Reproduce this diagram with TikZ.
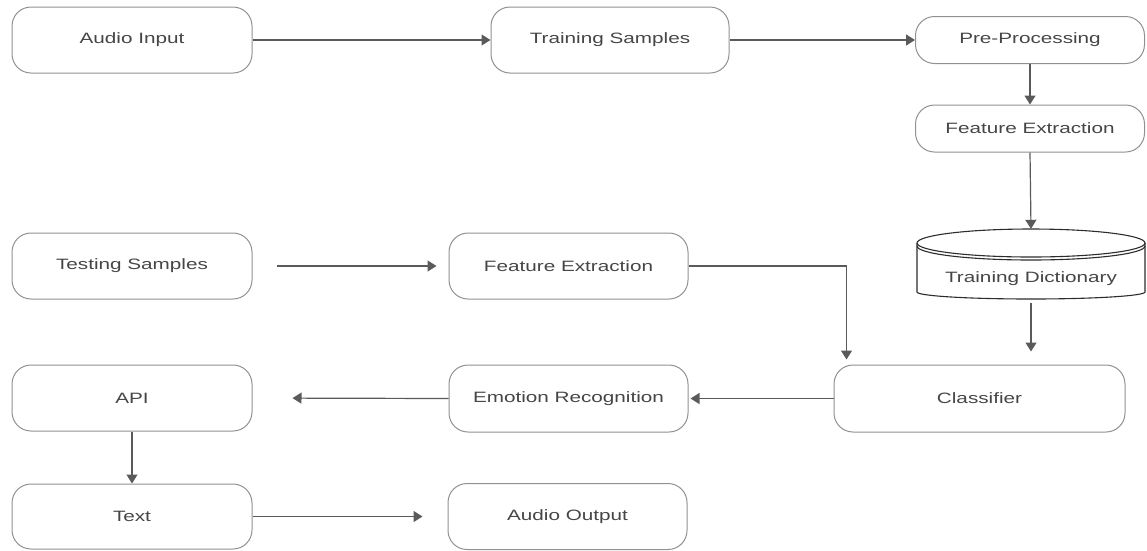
\documentclass[tikz,border=0pt]{standalone}
\usepackage{fontspec}
\newfontfamily\labfont[FakeStretch=1.38]{Liberation Sans}
\usetikzlibrary{arrows.meta,calc}
\definecolor{boxc}{RGB}{145,145,145}
\definecolor{txtc}{RGB}{70,70,70}
\definecolor{arrc}{RGB}{90,90,90}
\definecolor{cylc}{RGB}{45,45,45}
\tikzset{
  proc/.style={draw=boxc, line width=1pt, rounded corners=19pt, fill=white,
    font=\labfont\fontsize{15}{18}\selectfont, text=txtc, inner sep=0pt},
  flow/.style={draw=arrc, line width=1.2pt, -{Triangle[length=9pt,width=11pt]}},
  cyl/.style={draw=cylc, line width=1.1pt}
}
\begin{document}
\begin{tikzpicture}[x=1pt,y=-1pt]
\useasboundingbox (0,0) rectangle (1147,550);
% nodes
\node[proc, minimum width=240pt, minimum height=66pt] (ai) at (132,40) {Audio Input};
\node[proc, minimum width=238pt, minimum height=66pt] (ts) at (610,40) {Training Samples};
\node[proc, minimum width=229pt, minimum height=47pt] (pp) at (1030,40) {Pre-Processing};
\node[proc, minimum width=229pt, minimum height=47pt] (fe1) at (1030,128.5) {Feature Extraction};
\node[inner sep=0pt, minimum width=228pt, minimum height=69pt] (td) at (1031,263.5) {};
\node[proc, minimum width=240pt, minimum height=66pt] (tst) at (132,266) {Testing Samples};
\node[proc, minimum width=239pt, minimum height=66pt] (fe2) at (568.5,266) {Feature Extraction};
\node[proc, minimum width=291pt, minimum height=67pt] (cl) at (979.5,398.5) {Classifier};
\node[proc, minimum width=239pt, minimum height=67pt] (er) at (568.5,398.5) {Emotion Recognition};
\node[proc, minimum width=240pt, minimum height=66pt] (api) at (132,398) {API};
\node[proc, minimum width=240pt, minimum height=65pt] (tx) at (132,516.5) {Text};
\node[proc, minimum width=239pt, minimum height=66pt] (ao) at (567.5,516.5) {Audio Output};
% cylinder (Training Dictionary)
\fill[white] (917,243) -- (917,292) arc[start angle=180, end angle=360, x radius=114pt, y radius=7pt] -- (1145,243) -- cycle;
\draw[cyl] (917,243) arc[start angle=180, end angle=540, x radius=114pt, y radius=14pt];
\draw[cyl] (917,246) arc[start angle=180, end angle=360, x radius=114pt, y radius=14pt];
\draw[cyl] (917,243) -- (917,292) arc[start angle=180, end angle=360, x radius=114pt, y radius=7pt] -- (1145,243);
\node[font=\labfont\fontsize{15}{18}\selectfont, text=txtc] (tdl) at (1031,279) {Training Dictionary};
% connectors
\draw[flow] (ai.east) -- (ts.west);
\draw[flow] (ts.east) -- (pp.west);
\draw[flow] (pp.south) -- (fe1.north);
\draw[flow] (fe1.south) -- (td.north);
\draw[flow, shorten <=5pt, shorten >=13pt] (td.south) -- (td.south |- cl.north);
\draw[flow, shorten <=24pt, shorten >=12pt] (tst.east) -- (fe2.west);
\draw[flow, shorten >=5pt] (fe2.east) -| ($(cl.north west)+(13,0)$);
\draw[flow, shorten >=2pt] (cl.west) -- (er.east);
\draw[flow, shorten >=40pt] (er.west) -- (api.east);
\draw[flow] (api.south) -- (tx.north);
\draw[flow, shorten >=25pt] (tx.east) -- (ao.west);
\end{tikzpicture}
\end{document}
